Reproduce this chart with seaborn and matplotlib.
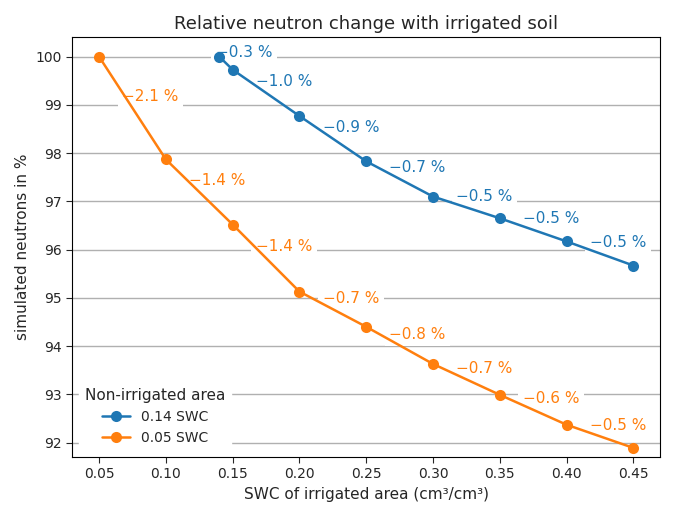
import numpy as np
import pandas as pd
import matplotlib
matplotlib.use("Agg")
import matplotlib.pyplot as plt
import seaborn as sns

x_wet = [0.14, 0.15, 0.20, 0.25, 0.30, 0.35, 0.40, 0.45]
y_wet = [100.0, 99.73, 98.77, 97.83, 97.10, 96.65, 96.17, 95.67]
lab_wet = ["−0.3 %", "−1.0 %", "−0.9 %", "−0.7 %", "−0.5 %", "−0.5 %", "−0.5 %"]

x_dry = [0.05, 0.10, 0.15, 0.20, 0.25, 0.30, 0.35, 0.40, 0.45]
y_dry = [100.0, 97.87, 96.52, 95.13, 94.40, 93.63, 92.99, 92.37, 91.89]
lab_dry = ["−2.1 %", "−1.4 %", "−1.4 %", "−0.7 %", "−0.8 %", "−0.7 %", "−0.6 %", "−0.5 %"]

df = pd.concat([
    pd.DataFrame({"x": x_wet, "y": y_wet, "series": "0.14 SWC"}),
    pd.DataFrame({"x": x_dry, "y": y_dry, "series": "0.05 SWC"}),
])

sns.set_style("white")
fig, ax = plt.subplots(figsize=(6.75, 5.17), dpi=100)
ax.yaxis.grid(True, color="#b0b0b0", linewidth=1, zorder=0)
ax.set_axisbelow(True)

colors = {"0.14 SWC": "#1f77b4", "0.05 SWC": "#ff7f0e"}
sns.lineplot(data=df, x="x", y="y", hue="series", palette=colors, marker="o",
             markersize=8, markeredgewidth=0, linewidth=1.8, ax=ax, sort=False,
             zorder=3)

for xs, ys, labs, c in [(x_wet, y_wet, lab_wet, colors["0.14 SWC"]),
                        (x_dry, y_dry, lab_dry, colors["0.05 SWC"])]:
    for i, lab in enumerate(labs):
        mx = (xs[i] + xs[i + 1]) / 2
        my = (ys[i] + ys[i + 1]) / 2
        ax.annotate(lab, (mx, my), xytext=(13, 8), textcoords="offset points",
                    ha="center", va="center", color=c, fontsize=11, zorder=2,
                    bbox=dict(boxstyle="square,pad=0.3", fc="white", ec="none"))

ax.set_xticks([0.05, 0.10, 0.15, 0.20, 0.25, 0.30, 0.35, 0.40, 0.45])
ax.set_xticklabels([f"{v:.2f}" for v in ax.get_xticks()])
ax.set_yticks(range(92, 101))
ax.set_xlim(0.03, 0.47)
ax.set_ylim(91.7, 100.4)
ax.set_xlabel("SWC of irrigated area (cm³/cm³)", fontsize=11)
ax.set_ylabel("simulated neutrons in %", fontsize=11)
ax.set_title("Relative neutron change with irrigated soil", fontsize=13)
ax.tick_params(axis="both", labelsize=10, left=True, bottom=True, length=4)

leg = ax.legend(title="Non-irrigated area", loc="lower left", fontsize=10,
                title_fontsize=11, frameon=True, framealpha=1, edgecolor="white")
leg.set_zorder(2)
for s in ax.spines.values():
    s.set_color("black")
    s.set_linewidth(0.8)

plt.tight_layout()
plt.savefig("out.png")
